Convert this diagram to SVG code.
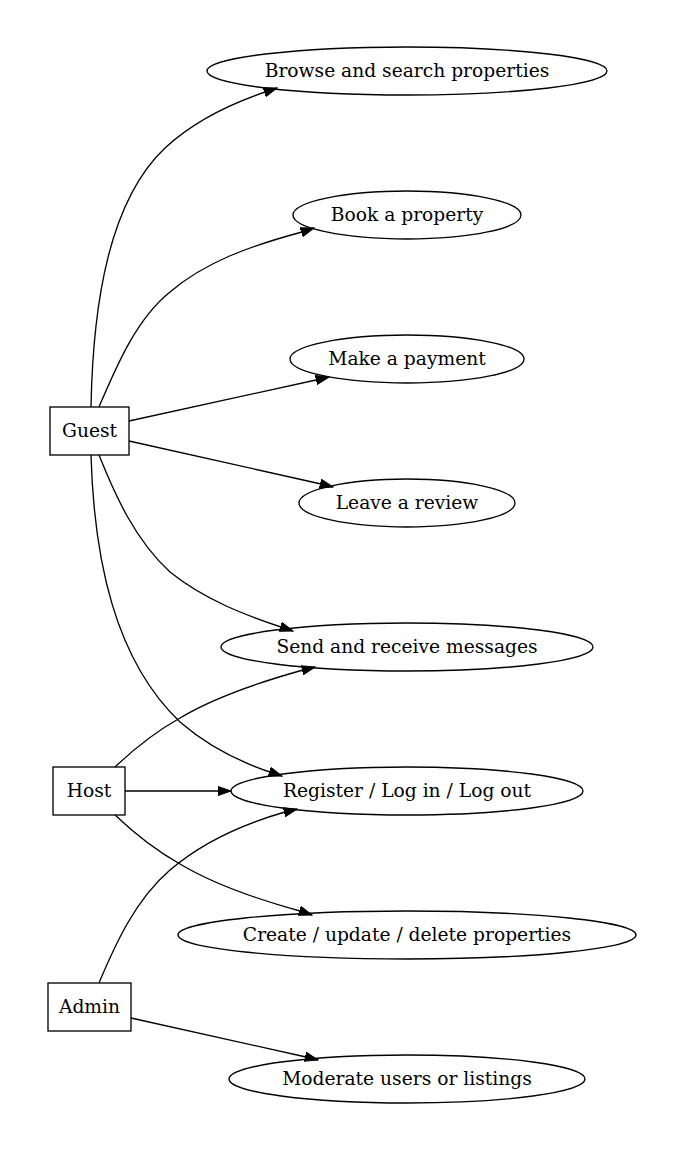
<svg xmlns="http://www.w3.org/2000/svg" width="684" height="1152" viewBox="0 0 684 1152">
<style>
.n{fill:none;stroke:#000;stroke-width:1.33}
.t{font-family:"DejaVu Serif",serif;font-size:18.67px;text-anchor:middle;fill:#000}
.e{fill:none;stroke:#000;stroke-width:1.33}
</style>
<defs>
<marker id="arr" markerUnits="userSpaceOnUse" markerWidth="14" markerHeight="10" viewBox="0 -5 14 10" refX="13.3" refY="0" orient="auto">
<path d="M0,-4.7 L13.3,0 L0,4.7 z" fill="#000" stroke="#000" stroke-width="1"/>
</marker>
</defs>
<rect width="684" height="1152" fill="#fff"/>
<g id="connectors">
<path class="e" marker-end="url(#arr)" d="M91,407 C93,300 110,200 165,148 C195,120 230,104 265,92 L277,88"/>
<path class="e" marker-end="url(#arr)" d="M99,407 C115,370 135,320 170,292 C205,262 250,246 302,232 L314,228"/>
<path class="e" marker-end="url(#arr)" d="M129,421 L316,380 L329,377"/>
<path class="e" marker-end="url(#arr)" d="M129,441 L321,484 L333,487"/>
<path class="e" marker-end="url(#arr)" d="M99,455 C115,495 135,540 170,572 C205,600 245,615 281,627 L293,631"/>
<path class="e" marker-end="url(#arr)" d="M91,455 C94,560 115,660 180,722 C210,748 240,762 270,772 L282,776"/>
<path class="e" marker-end="url(#arr)" d="M115,767 C135,748 155,732 180,718 C215,697 260,682 303,670 L315,667"/>
<path class="e" marker-end="url(#arr)" d="M125,791 L231,791"/>
<path class="e" marker-end="url(#arr)" d="M115,815 C135,834 155,850 180,864 C215,885 260,900 300,911 L312,915"/>
<path class="e" marker-end="url(#arr)" d="M99,983 C115,945 135,900 170,870 C205,840 250,822 285,812 L297,809"/>
<path class="e" marker-end="url(#arr)" d="M131,1018 L306,1057 L318,1060"/>
</g>
<g id="guest"><rect class="n" x="50" y="407" width="79" height="48"/><text class="t" x="89.5" y="437">Guest</text></g>
<g id="host"><rect class="n" x="53" y="767" width="72" height="48"/><text class="t" x="89" y="797">Host</text></g>
<g id="admin"><rect class="n" x="48" y="983" width="83" height="48"/><text class="t" x="89.5" y="1013">Admin</text></g>
<g id="browse"><ellipse class="n" cx="407" cy="71" rx="200" ry="24"/><text class="t" x="407" y="77">Browse and search properties</text></g>
<g id="book"><ellipse class="n" cx="407" cy="215" rx="114" ry="24"/><text class="t" x="407" y="221">Book a property</text></g>
<g id="payment"><ellipse class="n" cx="407" cy="359" rx="117" ry="24"/><text class="t" x="407" y="365">Make a payment</text></g>
<g id="review"><ellipse class="n" cx="407" cy="503" rx="108" ry="24"/><text class="t" x="407" y="509">Leave a review</text></g>
<g id="messages"><ellipse class="n" cx="407" cy="647" rx="186" ry="24"/><text class="t" x="407" y="653">Send and receive messages</text></g>
<g id="register"><ellipse class="n" cx="407" cy="791" rx="176" ry="24"/><text class="t" x="407" y="797">Register / Log in / Log out</text></g>
<g id="create"><ellipse class="n" cx="407" cy="935" rx="229" ry="24"/><text class="t" x="407" y="941">Create / update / delete properties</text></g>
<g id="moderate"><ellipse class="n" cx="407" cy="1079" rx="178" ry="24"/><text class="t" x="407" y="1085">Moderate users or listings</text></g>
</svg>
